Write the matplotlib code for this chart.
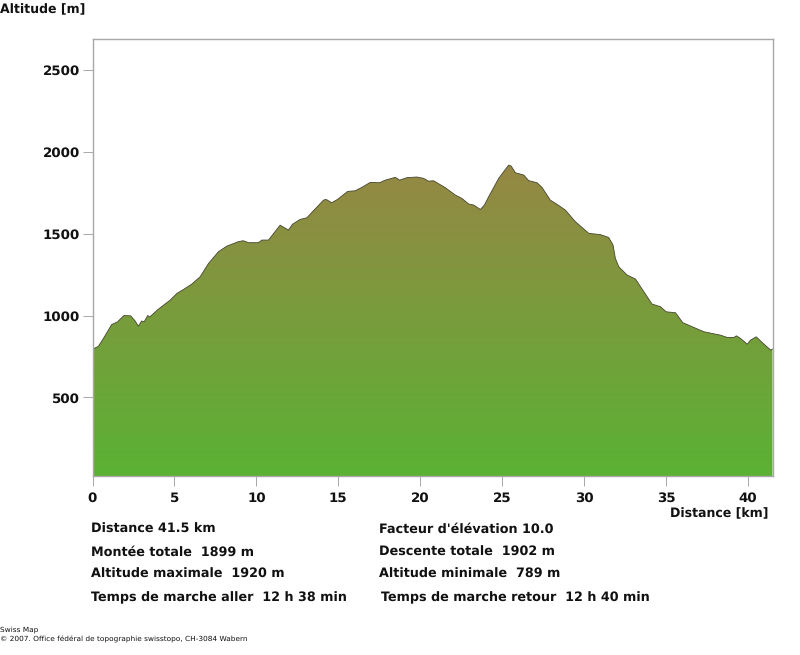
""" plot.py

Altitude profile of a hike, Swiss Map style.
"""

import numpy as np
import matplotlib.pyplot as plt
from matplotlib.colors import LinearSegmentedColormap

plt.rcParams["text.hinting"] = "no_hinting"

#####################################
# Profile data
#####################################

distance_km = [
    0, 0.36, 0.66, 1.17, 1.52, 1.92, 2.33, 2.6, 2.8, 3.0, 3.15, 3.37, 3.5, 4.0, 4.33,
    4.74, 5.15, 5.55, 6.06, 6.57, 7.08, 7.69, 8.2, 8.9, 9.2, 9.52, 10.13, 10.34, 10.74,
    11.45, 11.96, 12.2, 12.67, 13.08, 14.1, 14.26, 14.6, 14.95, 15.57, 16.03, 16.44,
    16.95, 17.52, 17.87, 18.48, 18.74, 19.19, 19.8, 20.2, 20.5, 20.82, 21.53, 22.14,
    22.55, 22.96, 23.26, 23.67, 23.92, 24.18, 24.79, 25.4, 25.55, 25.81, 26.32, 26.62,
    27.13, 27.43, 27.94, 28.35, 28.86, 29.47, 30.29, 31.0, 31.5, 31.77, 31.91, 32.12,
    32.63, 33.14, 33.65, 34.15, 34.66, 35.01, 35.58, 36.03, 37.31, 38.33, 38.74, 39.14,
    39.3, 39.55, 39.96, 40.16, 40.51, 40.88, 41.39, 41.5,
]
altitude_m = [
    794, 812, 859, 945, 961, 1000, 998, 967, 935, 967, 961, 1000, 992, 1037, 1063,
    1094, 1135, 1159, 1192, 1237, 1318, 1390, 1424, 1451, 1457, 1445, 1445, 1461, 1461,
    1552, 1522, 1557, 1587, 1597, 1705, 1709, 1689, 1709, 1758, 1762, 1783,
    1813, 1811, 1827, 1844, 1827, 1842, 1846, 1838, 1821, 1823, 1781, 1736,
    1715, 1681, 1675, 1648, 1675, 1726, 1838, 1919, 1913, 1872, 1858, 1824,
    1811, 1783, 1705, 1679, 1644, 1573, 1502, 1494, 1477, 1430, 1349, 1298,
    1247, 1223, 1145, 1070, 1054, 1023, 1017, 956, 901, 880, 866, 866,
    876, 860, 825, 850, 870, 834, 789, 795,
]

x_ticks = [0, 5, 10, 15, 20, 25, 30, 35, 40]
y_ticks = [500, 1000, 1500, 2000, 2500]

left_stats = [
    "Distance 41.5 km",
    "Montée totale  1899 m",
    "Altitude maximale  1920 m",
    "Temps de marche aller  12 h 38 min",
]
right_stats = [
    "Facteur d'élévation 10.0",
    "Descente totale  1902 m",
    "Altitude minimale  789 m",
    "Temps de marche retour  12 h 40 min",
]

#####################################
# Figure and axes
#####################################

W, H = 800, 655
GREY = "#a8a8a8"

fig = plt.figure(figsize=(W / 100, H / 100), dpi=100)
ax = fig.add_axes([92.5 / W, 1 - 476 / H, 680 / W, 437.5 / H])

# gradient follows altitude, clipped to the profile polygon
cmap = LinearSegmentedColormap.from_list("profile", ["#5ab234", "#968744"])
grad = np.linspace(0, 1, 256).reshape(-1, 1)
img = ax.imshow(grad, origin="lower", aspect="auto", cmap=cmap, extent=(0, 41.5, 20, 1920), zorder=1)
poly = ax.fill_between(distance_km, altitude_m, 20, facecolor="none", edgecolor="none")
img.set_clip_path(poly.get_paths()[0], transform=ax.transData)
ax.plot(distance_km, altitude_m, color="#45452f", lw=0.6, zorder=2)
ax.set_xlim(0, 41.5)
ax.set_ylim(20, 2692)

for spine in ax.spines.values():
    spine.set_color(GREY)
    spine.set_linewidth(1.0)

ax.set_xticks(x_ticks)
ax.set_yticks(y_ticks)
ax.tick_params(axis="both", length=7.2, width=0.7, color=GREY, labelsize=9.6, labelcolor="#111111")
ax.tick_params(axis="x", pad=4)
ax.tick_params(axis="y", pad=1.8)
for label in ax.get_xticklabels() + ax.get_yticklabels():
    label.set_fontweight("bold")

#####################################
# Text around the plot
#####################################

def put_text(x, y, s, size=9.2, weight="bold", ha="left"):
    # y is the text baseline in picture pixels
    fig.text(x / W, 1 - y / H, s, fontsize=size, fontweight=weight, ha=ha, va="baseline", color="#111111")

put_text(0, 13, "Altitude [m]", size=9)
put_text(768, 517, "Distance [km]", size=9, ha="right")

rows_y = [533, 556, 578, 601]
for y, s in zip(rows_y, left_stats):
    put_text(91, y, s)
for i, (y, s) in enumerate(zip(rows_y, right_stats)):
    put_text(381 if i == 3 else 379, y, s)

put_text(0, 632, "Swiss Map", size=5.35, weight="normal")
put_text(0, 642, "© 2007. Office fédéral de topographie swisstopo, CH-3084 Wabern", size=5.35, weight="normal")

fig.savefig("out.png", dpi=100)
